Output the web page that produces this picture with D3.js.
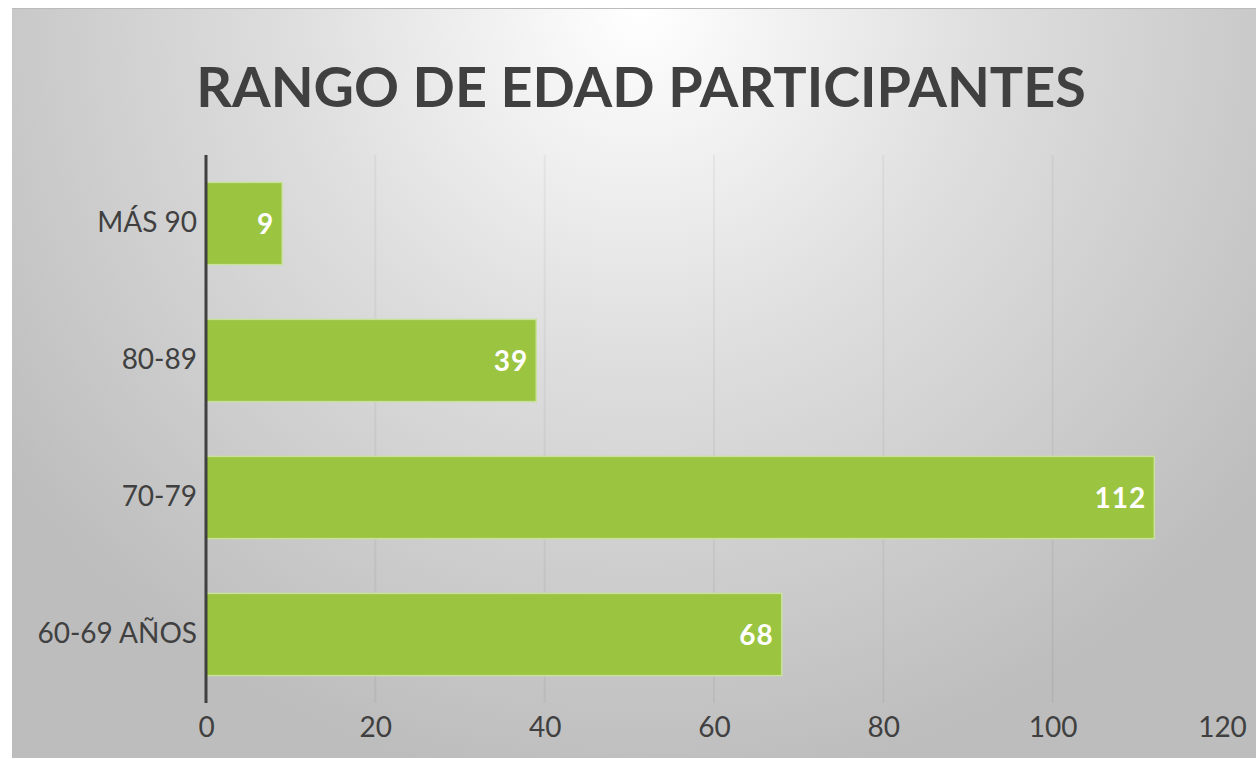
<!DOCTYPE html>
<html>
<head>
<meta charset="utf-8">
<script src="https://cdn.jsdelivr.net/npm/d3@7"></script>
<style>
  body { margin: 0; background: #fff; }
  svg { display: block; font-family: Lato, "Open Sans", sans-serif; }
</style>
</head>
<body>
<svg id="chart"></svg>
<script>
// Données
const categories = ['MÁS 90', '80-89', '70-79', '60-69 AÑOS'];
const values = [9, 39, 112, 68];
const xTicks = [0, 20, 40, 60, 80, 100, 120];
const gridTicks = [20, 40, 60, 80, 100];
const title = 'RANGO DE EDAD PARTICIPANTES';

const width = 1256;
const height = 759;

const svg = d3.select('#chart')
    .attr('width', width)
    .attr('height', height);

// Fond avec dégradé radial
const defs = svg.append('defs');
const grad = defs.append('radialGradient')
    .attr('id', 'bg')
    .attr('gradientUnits', 'userSpaceOnUse')
    .attr('cx', 640).attr('cy', 10)
    .attr('r', 780);
grad.append('stop').attr('offset', '0%').attr('stop-color', '#ffffff');
grad.append('stop').attr('offset', '45%').attr('stop-color', '#dedede');
grad.append('stop').attr('offset', '100%').attr('stop-color', '#bdbdbd');

svg.append('rect')
    .attr('x', 12).attr('y', 8)
    .attr('width', width - 12).attr('height', height - 9)
    .attr('fill', 'url(#bg)');
svg.append('line')
    .attr('x1', 12).attr('x2', width)
    .attr('y1', 8.5).attr('y2', 8.5)
    .attr('stroke', '#bbbbbb');

// Titre
const titleText = svg.append('text')
    .attr('x', 641)
    .attr('y', 107)
    .attr('text-anchor', 'middle')
    .style('font-weight', 'bold')
    .style('font-size', '58px')
    .style('fill', '#404040')
    .text(title);
const tw = titleText.node().getComputedTextLength();
titleText.style('font-size', (58 * 890 / tw) + 'px');

// Échelles
const x = d3.scaleLinear()
    .domain([0, 120])
    .range([206, 1222]);

const y = d3.scaleBand()
    .domain(categories)
    .range([155, 703])
    .paddingInner(0.4)
    .paddingOuter(0.2);

// Grille verticale
svg.append('g')
    .selectAll('line')
    .data(gridTicks)
    .enter()
    .append('line')
    .attr('x1', d => x(d)).attr('x2', d => x(d))
    .attr('y1', 155).attr('y2', 703)
    .attr('stroke', '#000')
    .attr('stroke-opacity', 0.045)
    .attr('stroke-width', 2);

// Barres
svg.append('g')
    .selectAll('rect')
    .data(values)
    .enter()
    .append('rect')
    .attr('x', x(0))
    .attr('y', (d, i) => y(categories[i]))
    .attr('width', d => x(d) - x(0))
    .attr('height', y.bandwidth())
    .style('fill', '#9bc440')
    .style('stroke', '#c8e29c')
    .style('stroke-width', 1.5);

// Étiquettes de valeur
svg.append('g')
    .selectAll('text')
    .data(values)
    .enter()
    .append('text')
    .attr('x', d => x(d) - 8)
    .attr('y', (d, i) => y(categories[i]) + y.bandwidth() / 2)
    .attr('dy', '0.36em')
    .attr('text-anchor', 'end')
    .style('fill', '#fff')
    .style('font-weight', 'bold')
    .style('font-size', '28px')
    .style('letter-spacing', '1px')
    .text(d => d);

// Axe Y (catégories)
const yAxis = svg.append('g')
    .attr('transform', `translate(${x(0)},0)`)
    .call(d3.axisLeft(y).tickSize(0).tickPadding(9));
yAxis.select('.domain').remove();
yAxis.selectAll('text')
    .style('font-size', '28px')
    .style('font-family', 'Lato, "Open Sans", sans-serif')
    .style('fill', '#404040');

svg.append('line')
    .attr('x1', x(0)).attr('x2', x(0))
    .attr('y1', 155).attr('y2', 703)
    .attr('stroke', '#404040')
    .attr('stroke-width', 3);

// Axe X
const xAxis = svg.append('g')
    .attr('transform', 'translate(0,703)')
    .call(d3.axisBottom(x).tickValues(xTicks).tickSize(0).tickPadding(14));
xAxis.select('.domain').remove();
xAxis.selectAll('text')
    .style('font-size', '28px')
    .style('font-family', 'Lato, "Open Sans", sans-serif')
    .style('fill', '#404040');
</script>
</body>
</html>
